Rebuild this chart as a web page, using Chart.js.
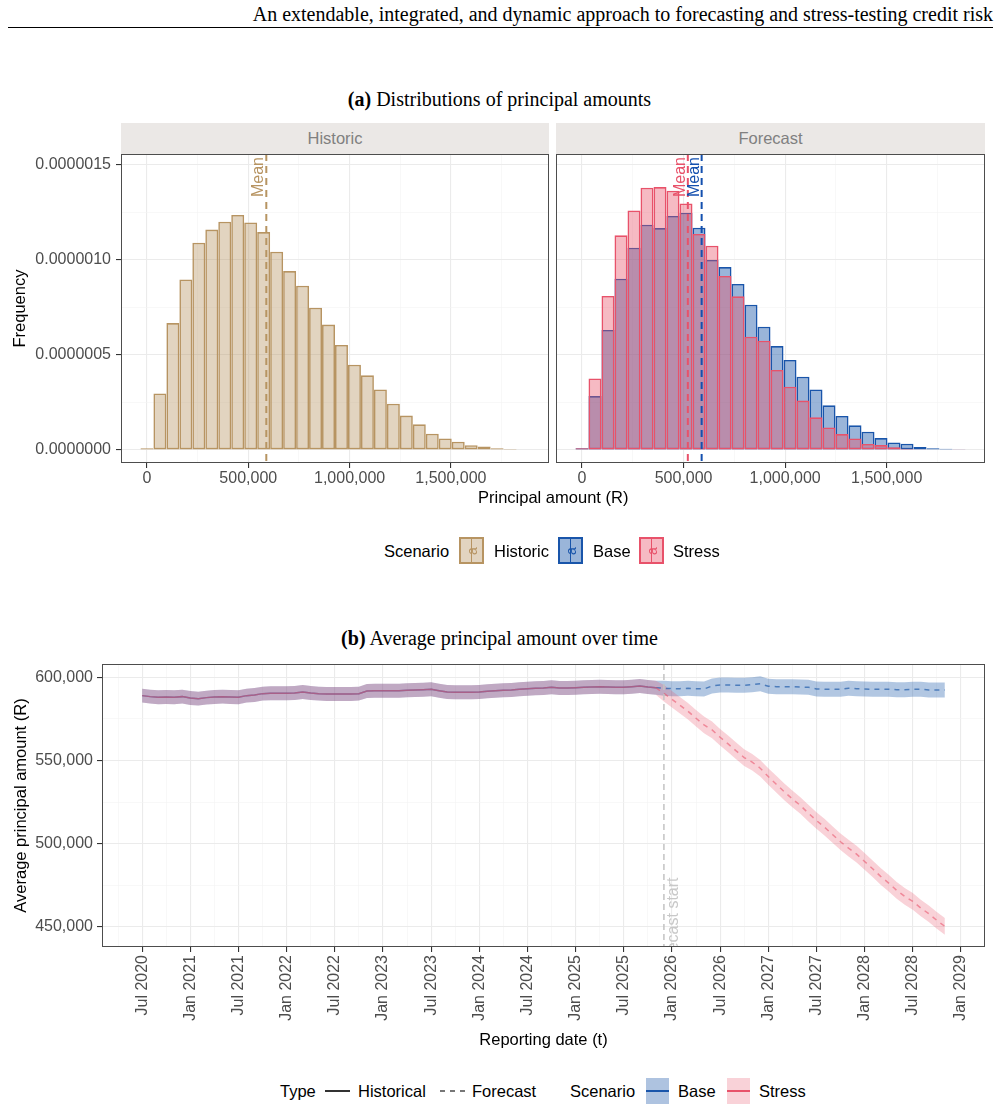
<!DOCTYPE html>
<html lang="en">
<head>
<meta charset="UTF-8">
<title>Principal amounts</title>
<script src="https://cdn.jsdelivr.net/npm/chart.js"></script>
<style>
  body{margin:0; background:#fff; font-family:"Liberation Sans", Arial, sans-serif;}
  #page{position:relative; width:999px; height:1110px; overflow:hidden;}
  .abs{position:absolute; white-space:nowrap;}
  canvas{position:absolute;}
  #header{right:6px; top:3px; font:20px/22px "Liberation Serif", "Times New Roman", serif;}
  #rule{left:8px; top:27px; width:985px; height:1px; background:#000;}
  .ptitle{left:0; width:999px; text-align:center; font:20px/20px "Liberation Serif", "Times New Roman", serif;}
  .strip{top:123px; height:31px; background:#EBE8E6; color:#808080; font-size:16.5px; line-height:31px; text-align:center;}
  .lgt{font-size:16.5px; line-height:20px; color:#000;}
  .key{position:absolute; box-sizing:border-box;}
  .gv{position:absolute; left:calc(50% - 0.75px); top:0; bottom:0; width:1.5px;}
  .ga{position:absolute; left:50%; top:50%; transform:translate(-50%,-50%) rotate(-90deg); font-size:14px; line-height:1;}
  .gh{position:absolute; left:0; right:0; top:calc(50% - 1px); height:2px;}
</style>
</head>
<body>
<div id="page">
  <div id="header" class="abs">An extendable, integrated, and dynamic approach to forecasting and stress-testing credit risk</div>
  <div id="rule" class="abs"></div>

  <div class="abs ptitle" style="top:89px"><b>(a)</b> Distributions of principal amounts</div>
  <div class="abs strip" style="left:121px; width:428px">Historic</div>
  <div class="abs strip" style="left:556px; width:429px">Forecast</div>
  <canvas id="histA" width="552" height="340" style="left:0; top:150px"></canvas>
  <canvas id="foreA" width="436" height="340" style="left:553px; top:150px"></canvas>
  <div class="abs lgt" style="left:478px; top:487px">Principal amount (R)</div>

  <div class="abs lgt" style="left:384px; top:541px">Scenario</div>
  <div class="key" style="left:459px; top:537px; width:25px; height:27px; border:2px solid rgb(183,148,98); background:rgba(183,148,98,0.4)">
    <span class="gv" style="background:rgb(183,148,98)"></span><span class="ga" style="color:rgb(183,148,98)">a</span></div>
  <div class="abs lgt" style="left:494px; top:541px">Historic</div>
  <div class="key" style="left:558px; top:537px; width:25px; height:27px; border:2px solid rgb(25,85,170); background:rgba(30,90,170,0.45)">
    <span class="gv" style="background:rgb(25,85,170)"></span><span class="ga" style="color:rgb(25,85,170)">a</span></div>
  <div class="abs lgt" style="left:593px; top:541px">Base</div>
  <div class="key" style="left:639px; top:537px; width:25px; height:27px; border:2px solid rgb(232,82,106); background:rgba(232,82,106,0.4)">
    <span class="gv" style="background:rgb(232,82,106)"></span><span class="ga" style="color:rgb(232,82,106)">a</span></div>
  <div class="abs lgt" style="left:673px; top:541px">Stress</div>

  <div class="abs ptitle" style="top:628px"><b>(b)</b> Average principal amount over time</div>
  <canvas id="timeB" width="989" height="400" style="left:0; top:655px"></canvas>

  <div class="abs lgt" style="left:280px; top:1081px">Type</div>
  <div class="key" style="left:325px; top:1090px; width:25px; height:2px; background:#333"></div>
  <div class="abs lgt" style="left:358px; top:1081px">Historical</div>
  <div class="key" style="left:440px; top:1090px; width:25px; height:2px; background:repeating-linear-gradient(90deg,#777 0 5px,transparent 5px 10px)"></div>
  <div class="abs lgt" style="left:472px; top:1081px">Forecast</div>
  <div class="abs lgt" style="left:570px; top:1081px">Scenario</div>
  <div class="key" style="left:646px; top:1078px; width:23px; height:26px; background:rgba(30,90,170,0.36)"><span class="gh" style="background:rgb(25,85,170)"></span></div>
  <div class="abs lgt" style="left:678px; top:1081px">Base</div>
  <div class="key" style="left:727px; top:1078px; width:23px; height:26px; background:rgba(232,82,106,0.26)"><span class="gh" style="background:rgb(232,82,106)"></span></div>
  <div class="abs lgt" style="left:759px; top:1081px">Stress</div>
</div>

<script>
// ---------- panel (a): histograms ----------
// bin centres (R)
const binCentres = [0, 64000, 128000, 192000, 256000, 320000, 384000, 448000, 512000, 576000,
  640000, 704000, 768000, 832000, 896000, 960000, 1024000, 1088000, 1152000, 1216000,
  1280000, 1344000, 1408000, 1472000, 1536000, 1600000, 1664000, 1728000, 1792000, 1856000];
// densities per bin
const historicFreq = [0.09e-7, 2.98e-7, 6.68e-7, 8.98e-7, 10.91e-7, 11.60e-7, 12.02e-7, 12.37e-7, 11.98e-7, 11.47e-7,
  10.44e-7, 9.42e-7, 8.65e-7, 7.49e-7, 6.60e-7, 5.53e-7, 4.49e-7, 3.93e-7, 3.19e-7, 2.44e-7,
  1.81e-7, 1.35e-7, 0.86e-7, 0.61e-7, 0.44e-7, 0.25e-7, 0.18e-7, 0.09e-7, 0.05e-7, 0.02e-7];
const baseFreq = [0.09e-7, 2.84e-7, 6.32e-7, 9.02e-7, 10.65e-7, 11.86e-7, 11.68e-7, 12.32e-7, 12.49e-7, 11.70e-7,
  10.00e-7, 9.63e-7, 8.74e-7, 7.65e-7, 6.49e-7, 5.47e-7, 4.74e-7, 3.86e-7, 3.19e-7, 2.35e-7,
  1.79e-7, 1.30e-7, 0.96e-7, 0.63e-7, 0.40e-7, 0.33e-7, 0.16e-7, 0.09e-7, 0.07e-7, 0.035e-7];
const stressFreq = [0.09e-7, 3.77e-7, 8.11e-7, 11.30e-7, 12.61e-7, 13.81e-7, 13.84e-7, 13.65e-7, 12.98e-7, 11.37e-7,
  10.75e-7, 9.16e-7, 8.09e-7, 5.96e-7, 5.75e-7, 4.21e-7, 3.33e-7, 2.60e-7, 1.72e-7, 1.19e-7,
  0.84e-7, 0.61e-7, 0.32e-7, 0.26e-7, 0.14e-7, 0.07e-7, 0.035e-7, 0.02e-7, 0.02e-7, 0.015e-7];
const historicMean = 589000;
const baseMean = 589000;
const stressMean = 521000;

const xMajorA = [0, 500000, 1000000, 1500000];
const xMinorA = [250000, 750000, 1250000, 1750000];
const yMajorA = [0, 5e-7, 1e-6, 1.5e-6];
const yMinorA = [2.5e-7, 7.5e-7, 1.25e-6];

// ---------- panel (b): average principal over time ----------
// monthly, starting Jul 2020 (month 0); historical to Nov 2025 (month 64)
const histAvg = [589000, 588400, 588000, 588200, 588000, 588400, 587600, 587200, 587800, 588200,
  588400, 588200, 588000, 589000, 589400, 590200, 590400, 590400, 590400, 590600,
  591200, 590600, 590200, 590000, 590000, 590000, 590000, 590200, 591800, 592000,
  592000, 591900, 592000, 592200, 592400, 592600, 592800, 592000, 591200, 591000,
  591000, 591000, 591200, 591600, 592000, 592200, 592400, 592800, 593200, 593400,
  593600, 594000, 593600, 593600, 593800, 594000, 594200, 594400, 594200, 594000,
  594000, 594400, 594800, 594200, 593800];
// forecast, Dec 2025 (month 65) to Nov 2028 (month 100)
const baseAvg = [593400, 593200, 593200, 593400, 593200, 593000, 594800, 595400, 595400, 595200,
  595200, 595600, 596200, 594600, 594400, 594400, 594400, 594200, 594000, 593000,
  592800, 592800, 592800, 593400, 593200, 593000, 592800, 592800, 592800, 592600,
  592600, 592800, 592800, 592400, 592400, 592400];
const stressAvg = [590400, 586800, 583200, 579600, 575400, 571400, 568400, 564000, 560000, 555800,
  551800, 549000, 545400, 540400, 535800, 531200, 527000, 523000, 518400, 514000,
  510000, 505600, 501200, 497400, 493800, 489400, 485000, 480400, 476400, 472000,
  468400, 465400, 461400, 458000, 454000, 450400];
// half-width of the shaded bands (R)
const histBand = 4200;
const baseBand = 4500;
const stressBand = 5000;
const forecastStartMonth = 65;

const dateTickMonths = [0, 6, 12, 18, 24, 30, 36, 42, 48, 54, 60, 66, 72, 78, 84, 90, 96, 102];
const dateLabels = ['Jul 2020', 'Jan 2021', 'Jul 2021', 'Jan 2022', 'Jul 2022', 'Jan 2023', 'Jul 2023', 'Jan 2024',
  'Jul 2024', 'Jan 2025', 'Jul 2025', 'Jan 2026', 'Jul 2026', 'Jan 2027', 'Jul 2027', 'Jan 2028', 'Jul 2028', 'Jan 2029'];
const dateMinorMonths = [-3, 3, 9, 15, 21, 27, 33, 39, 45, 51, 57, 63, 69, 75, 81, 87, 93, 99];
const yMajorB = [450000, 500000, 550000, 600000];
const yMinorB = [475000, 525000, 575000];

// ---------- colours ----------
const tan = 'rgb(183,148,98)', blue = 'rgb(25,85,170)', pink = 'rgb(232,82,106)';
const FONT = "'Liberation Sans', Arial, sans-serif";

Chart.defaults.font.family = FONT;
Chart.defaults.color = '#4D4D4D';

const comma = v => v.toLocaleString('en-US');

// axis with ggplot-like major/minor grid
function gridAxis(major, minor, fmt, tickLen) {
  const isMajor = c => c.tick && major.includes(c.tick.value);
  return {
    afterBuildTicks: ax => {
      ax.ticks = major.concat(minor).sort((a, b) => a - b).map(v => ({value: v}));
    },
    ticks: {autoSkip: false, font: {size: 16}, callback: v => major.includes(v) ? fmt(v) : ''},
    grid: {
      offset: false,
      color: c => isMajor(c) ? '#EBEBEB' : '#F4F4F4',
      lineWidth: c => isMajor(c) ? 1.1 : 0.6,
      tickColor: c => isMajor(c) ? '#333' : 'rgba(0,0,0,0)',
      tickWidth: 1.1,
      tickLength: tickLen
    },
    border: {display: false}
  };
}

function fixSize(w, h) {
  return ax => {
    if (w !== null) ax.width = w;
    if (h !== null) ax.height = h;
    ax.paddingTop = 0; ax.paddingBottom = 0; ax.paddingLeft = 0; ax.paddingRight = 0;
  };
}

const panelBox = {
  id: 'panelBox',
  afterDraw(chart) {
    const {ctx, chartArea: a} = chart;
    ctx.save();
    ctx.strokeStyle = '#4d4d4d';
    ctx.lineWidth = 1;
    ctx.strokeRect(a.left + 0.5, a.top + 0.5, a.width - 1, a.height - 1);
    ctx.restore();
  }
};

const meanLines = {
  id: 'means',
  afterDatasetsDraw(chart, args, opts) {
    const {ctx, chartArea: a, scales: {x}} = chart;
    ctx.save();
    ctx.beginPath(); ctx.rect(a.left, a.top, a.width, a.height); ctx.clip();
    opts.lines.forEach(m => {
      const px = x.getPixelForValue(m.value);
      ctx.strokeStyle = m.color; ctx.lineWidth = 2; ctx.setLineDash([7, 5]);
      ctx.beginPath(); ctx.moveTo(px, a.top); ctx.lineTo(px, a.bottom); ctx.stroke();
      ctx.save();
      ctx.translate(px - 7.5, a.top + 3); ctx.rotate(-Math.PI / 2);
      ctx.fillStyle = m.color; ctx.font = '16px ' + FONT;
      ctx.textAlign = 'right'; ctx.textBaseline = 'middle';
      ctx.fillText('Mean', 0, 0);
      ctx.restore();
    });
    ctx.restore();
  }
};

function bars(freq, color, fill) {
  return {
    data: binCentres.map((x, i) => ({x: x, y: freq[i]})),
    backgroundColor: fill, borderColor: color, borderWidth: 1.6,
    borderSkipped: false, inflateAmount: 0,
    barPercentage: 1, categoryPercentage: 1, grouped: false
  };
}

function histogram(id, datasets, lines, showY) {
  const yAxis = gridAxis(yMajorA, yMinorA, v => v.toFixed(7), showY ? 5 : 0);
  yAxis.min = -6.84e-8; yAxis.max = 1.558e-6;
  yAxis.afterFit = fixSize(showY ? 121 : 0, null);
  yAxis.ticks.padding = 5;
  if (showY) {
    yAxis.title = {display: true, text: 'Frequency', color: '#000', font: {size: 16.5}, padding: {top: 11, bottom: 0}};
  } else {
    yAxis.ticks.display = false;
    yAxis.grid.drawTicks = false;
  }
  const xAxis = gridAxis(xMajorA, xMinorA, comma, 5);
  Object.assign(xAxis, {type: 'linear', min: -128000, max: 1984000, offset: false, afterFit: fixSize(null, 27)});
  xAxis.ticks.padding = 1;
  xAxis.ticks.maxRotation = 0;
  return new Chart(document.getElementById(id), {
    type: 'bar',
    data: {datasets: datasets},
    options: {
      responsive: false, animation: false, events: [],
      layout: {padding: showY ? {top: 4, right: 3, left: 0, bottom: 0} : {top: 4, right: 4, left: 3, bottom: 0}},
      plugins: {legend: {display: false}, tooltip: {enabled: false}, means: {lines: lines}},
      scales: {x: xAxis, y: yAxis}
    },
    plugins: [meanLines, panelBox]
  });
}

histogram('histA', [bars(historicFreq, tan, 'rgba(183,148,98,0.4)')],
  [{value: historicMean, color: tan}], true);
// stress first so it is drawn on top of base
histogram('foreA', [bars(stressFreq, pink, 'rgba(232,82,106,0.4)'), bars(baseFreq, blue, 'rgba(30,90,170,0.45)')],
  [{value: stressMean, color: pink}, {value: baseMean, color: 'rgb(20,80,175)'}], false);

// ---------- panel (b) chart ----------
const basePts = histAvg.concat(baseAvg).map((y, m) => ({x: m, y: y}));
const stressPts = histAvg.concat(stressAvg).map((y, m) => ({x: m, y: y}));
const lastHist = histAvg.length - 1;
const bandOf = (pts, sign, fc) => pts.map(p => ({x: p.x, y: p.y + sign * (p.x <= lastHist ? histBand : fc)}));

const dashAfterHist = ctx => ctx.p0.parsed.x >= lastHist ? [5, 5] : undefined;

const forecastStart = {
  id: 'forecastStart',
  afterDatasetsDraw(chart, args, opts) {
    const {ctx, chartArea: a, scales: {x, y}} = chart;
    const px = x.getPixelForValue(opts.month);
    ctx.save();
    ctx.beginPath(); ctx.rect(a.left, a.top, a.width, a.height); ctx.clip();
    ctx.strokeStyle = 'rgb(195,195,195)'; ctx.lineWidth = 1.5; ctx.setLineDash([6, 4]);
    ctx.beginPath(); ctx.moveTo(px, a.top); ctx.lineTo(px, a.bottom); ctx.stroke();
    ctx.translate(px + 10, y.getPixelForValue(opts.labelAt)); ctx.rotate(-Math.PI / 2);
    ctx.fillStyle = 'rgb(200,200,200)'; ctx.font = '16px ' + FONT;
    ctx.textAlign = 'left'; ctx.textBaseline = 'middle';
    ctx.fillText('Forecast start', 0, 0);
    ctx.restore();
  }
};

const xB = gridAxis(dateTickMonths, dateMinorMonths, v => dateLabels[dateTickMonths.indexOf(v)], 5);
Object.assign(xB, {type: 'linear', min: -5, max: 105, afterFit: fixSize(null, 108),
  title: {display: true, text: 'Reporting date (t)', color: '#000', font: {size: 16.5}, padding: {top: 0, bottom: 5}}});
Object.assign(xB.ticks, {minRotation: 90, maxRotation: 90, padding: 3});
const yB = gridAxis(yMajorB, yMinorB, comma, 5);
Object.assign(yB, {min: 438000, max: 608000, afterFit: fixSize(102, null),
  title: {display: true, text: 'Average principal amount (R)', color: '#000', font: {size: 16.5}, padding: {top: 12, bottom: 0}}});
yB.ticks.padding = 4;

const lineStyle = {pointRadius: 0, borderWidth: 1.5, tension: 0, fill: false, order: 0};
const bandStyle = {pointRadius: 0, borderWidth: 0, tension: 0};

// dataset 0 is drawn last, so the stress line sits on top of the base line
new Chart(document.getElementById('timeB'), {
  type: 'line',
  data: {
    datasets: [
      Object.assign({label: 'Stress', data: stressPts, borderColor: 'rgba(232,82,106,0.58)', segment: {borderDash: dashAfterHist}}, lineStyle),
      Object.assign({label: 'Base', data: basePts, borderColor: 'rgba(30,90,170,0.68)', segment: {borderDash: dashAfterHist}}, lineStyle),
      Object.assign({data: bandOf(stressPts, 1, stressBand), fill: '+1', backgroundColor: 'rgba(232,82,106,0.26)', order: 1}, bandStyle),
      Object.assign({data: bandOf(stressPts, -1, stressBand), fill: false, order: 1}, bandStyle),
      Object.assign({data: bandOf(basePts, 1, baseBand), fill: '+1', backgroundColor: 'rgba(30,90,170,0.34)', order: 2}, bandStyle),
      Object.assign({data: bandOf(basePts, -1, baseBand), fill: false, order: 2}, bandStyle)
    ]
  },
  options: {
    responsive: false, animation: false, events: [],
    layout: {padding: {top: 9, right: 4, left: 0, bottom: 0}},
    plugins: {legend: {display: false}, tooltip: {enabled: false},
      forecastStart: {month: forecastStartMonth, labelAt: 421000}},
    scales: {x: xB, y: yB}
  },
  plugins: [forecastStart, panelBox]
});
</script>
</body>
</html>
